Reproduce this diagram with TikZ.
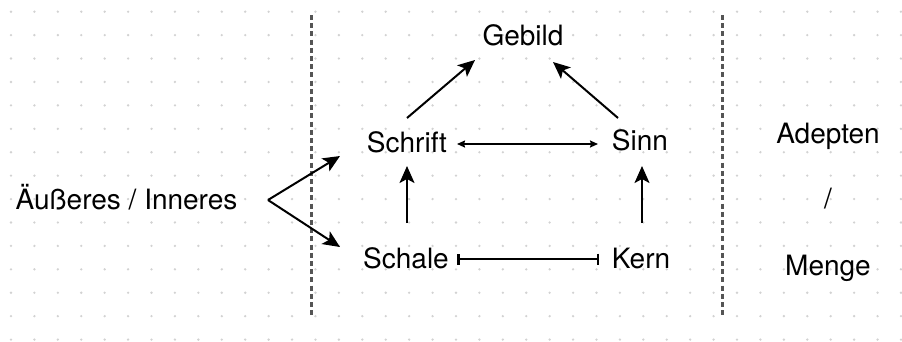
\documentclass[tikz,border=0pt]{standalone}
\usepackage{fontspec}
\setmainfont{TeX Gyre Heros}
\usetikzlibrary{arrows.meta}
\definecolor{griddot}{HTML}{D2D2D2}
\definecolor{sepline}{HTML}{555555}
\tikzset{
  lbl/.style={inner sep=0pt, anchor=base, font=\fontsize{28}{34}\selectfont},
  arr/.style={line width=2pt, -{Stealth[length=17pt,width=15pt,inset=4pt]}},
  dblarr/.style={line width=2pt, {Stealth[length=8pt,width=7pt,inset=1pt]}-{Stealth[length=8pt,width=7pt,inset=1pt]}},
  bararr/.style={line width=2pt, {Bar[width=11pt,line width=2.5pt]}-{Bar[width=11pt,line width=2.5pt]}},
  sep/.style={draw=sepline, line width=2.6pt, dash pattern=on 5pt off 3.2pt}
}
\begin{document}
\begin{tikzpicture}[x=1pt,y=-1pt]
\useasboundingbox (0,0) rectangle (902,341);
% dotted grid
\foreach \i in {0,...,38}{
  \foreach \j in {0,...,14}{
    \fill[griddot] (11+23.42*\i, 11.7+23.42*\j) circle (1.3pt);
  }
}
% separators
\coordinate (sepAtop) at (311.5,15);
\coordinate (sepAbot) at (311.5,318);
\coordinate (sepBtop) at (722.5,15);
\coordinate (sepBbot) at (722.5,318);
\draw[sep] (sepAtop) -- (sepAbot);
\draw[sep] (sepBtop) -- (sepBbot);
% labels
\node[lbl] (gebild) at (523,45) {Gebild};
\node[lbl] (schrift) at (407,152) {Schrift};
\node[lbl] (sinn) at (640,150) {Sinn};
\node[lbl] (schale) at (406,268) {Schale};
\node[lbl] (kern) at (641,268) {Kern};
\node[lbl] (aeuss) at (126.5,209) {Äußeres / Inneres};
\node[lbl] (adepten) at (828,143) {Adepten};
\node[lbl] (slash) at (828,208) {/};
\node[lbl] (menge) at (828,275) {Menge};
% connectors
\draw[arr] ([shift={(0,-34)}]schrift.base) -- ([shift={(-48,15)}]gebild.base);
\draw[arr] ([shift={(-22,-32)}]sinn.base) -- ([shift={(30,17)}]gebild.base);
\draw[dblarr] ([shift={(50,-8)}]schrift.base) -- ([shift={(-42,-6)}]sinn.base);
\draw[arr] ([shift={(1,-45)}]schale.base) -- ([shift={(0,14)}]schrift.base);
\draw[arr] ([shift={(1,-45)}]kern.base) -- ([shift={(2,16)}]sinn.base);
\draw[bararr] ([shift={(51,-9)}]schale.base) -- ([shift={(-42,-9)}]kern.base);
\coordinate (fork) at ([shift={(141.5,-9)}]aeuss.base);
\draw[arr] (fork) -- ([shift={(-67,4)}]schrift.base);
\draw[arr] (fork) -- ([shift={(-66,-21)}]schale.base);
\end{tikzpicture}
\end{document}
